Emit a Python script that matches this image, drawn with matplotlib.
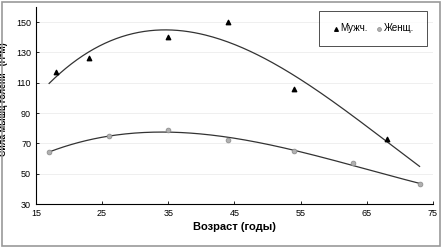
import numpy as np
import matplotlib
matplotlib.use("Agg")
import matplotlib.pyplot as plt
from matplotlib.patches import Rectangle

plt.rcParams['font.family'] = ['Liberation Sans', 'DejaVu Sans']

# data
men_age = [18, 23, 35, 44, 54, 68]
men_force = [117, 126, 140, 150, 106, 73]
women_age = [17, 26, 35, 44, 54, 63, 73]
women_force = [64, 75, 79, 72, 65, 57, 43]

fig = plt.figure(figsize=(4.43, 2.47), dpi=100)
ax = fig.add_axes([0.081, 0.174, 0.896, 0.798])

# trend lines (polynomial fits)
xs = np.linspace(17, 73, 200)
pm = np.polyfit(men_age, men_force, 3)
pw = np.polyfit(women_age, women_force, 3)
ax.plot(xs, np.polyval(pm, xs), color='#333333', lw=0.9)
ax.plot(xs, np.polyval(pw, xs), color='#333333', lw=0.9)

ax.scatter(men_age, men_force, marker='^', s=10, color='black', zorder=3,
           label='Мужч.')
ax.scatter(women_age, women_force, marker='o', s=12, color='#b0b0b0',
           edgecolor='#888888', linewidths=0.5, zorder=3, label='Женщ.')

ax.set_xlim(15, 75)
ax.set_ylim(30, 160)
ax.set_xticks(range(15, 76, 10))
ax.set_yticks(range(30, 151, 20))
ax.tick_params(direction='in', length=2, labelsize=6.5, width=0.6)
ax.grid(axis='y', color='#ececec', lw=0.6)
ax.set_axisbelow(True)
for s in ['top', 'right']:
    ax.spines[s].set_visible(False)
for s in ['left', 'bottom']:
    ax.spines[s].set_linewidth(0.8)

ax.set_xlabel('Возраст (годы)', fontsize=8, fontweight='bold', labelpad=3)
ax.set_ylabel('Сила мышц голени   (Н*М)', fontsize=6.3, fontweight='bold')
ax.yaxis.set_label_coords(-0.07, 0.53)

leg = ax.legend(loc='upper right', bbox_to_anchor=(0.998, 1.005), ncol=2,
                fontsize=7, frameon=True, fancybox=False,
                handletextpad=0.1, columnspacing=0.8, handlelength=0.8,
                borderpad=1.3, markerscale=0.8)
leg.get_frame().set_edgecolor('black')
leg.get_frame().set_linewidth(0.6)

fig.patches.append(Rectangle((0.004, 0.006), 0.99, 0.985, transform=fig.transFigure,
                             fill=False, edgecolor='#999999', lw=1.2))

plt.savefig('out.png', dpi=100)
